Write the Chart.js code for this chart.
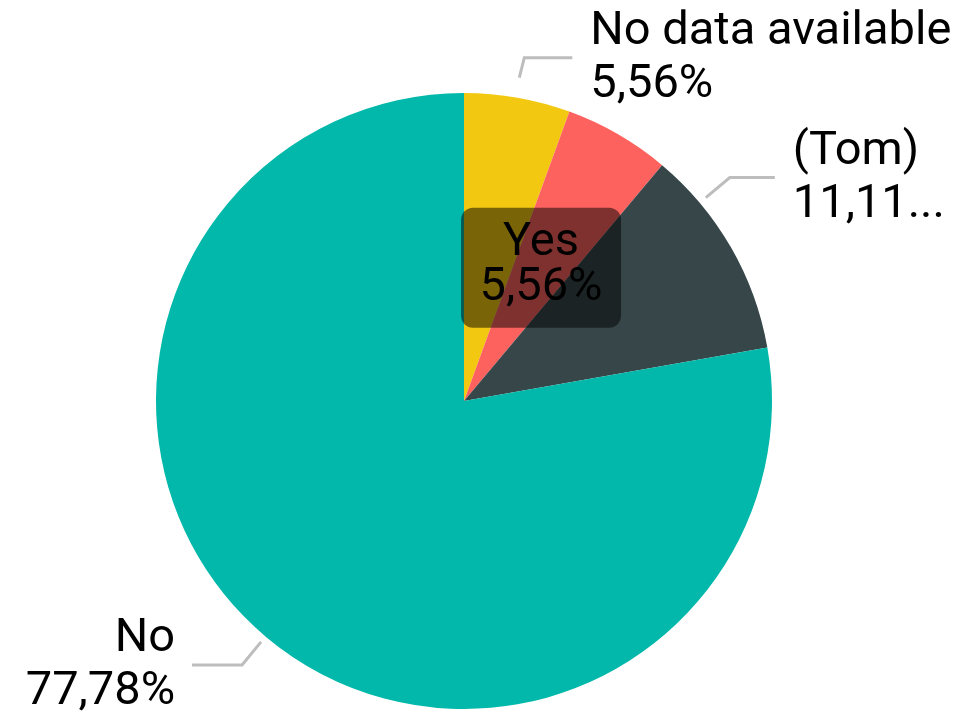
<!DOCTYPE html>
<html>
<head>
<meta charset="utf-8">
<script src="https://cdn.jsdelivr.net/npm/chart.js@4/dist/chart.umd.min.js"></script>
<style>
  html, body { margin: 0; padding: 0; background: #fff; }
  #wrap { width: 954px; height: 717px; position: relative; }
</style>
</head>
<body>
<div id="wrap"><canvas id="c" width="954" height="717"></canvas></div>
<script>
const categories = ['No data available', 'Yes', '(Tom)', 'No'];
const values = [5.56, 5.56, 11.11, 77.78];
const valueLabels = ['5,56%', '5,56%', '11,11...', '77,78%'];
const colors = ['#F2C811', '#FD625E', '#374649', '#01B8AA'];

// label styling (placement of leader lines / boxes)
const labelStyle = [
  { kind: 'outer', angleShift: -0.3, r: 20, ex: 5, ey: -20, len: 48, gap: 18, side: 'right' },
  { kind: 'inner' },
  { kind: 'outer', angleShift: -10.1, r: 8, ex: 24, ey: -20, len: 45, gap: 18, side: 'right' },
  { kind: 'outer', angleShift: 0.1, r: 7, ex: -19, ey: 23, len: 50, gap: 17, side: 'left' }
];
const FONT = '47px Roboto';
const LINE_H = 53;

const labelPlugin = {
  id: 'pbiLabels',
  afterDatasetsDraw(chart) {
    const ctx = chart.ctx;
    const meta = chart.getDatasetMeta(0);
    meta.data.forEach((arc, i) => {
      const p = arc.getProps(['x', 'y', 'startAngle', 'endAngle', 'outerRadius'], true);
      const st = labelStyle[i];
      const mid = (p.startAngle + p.endAngle) / 2;
      ctx.save();
      ctx.font = FONT;
      ctx.fillStyle = '#000';
      ctx.textBaseline = 'middle';
      if (st.kind === 'inner') {
        const cx = p.x + Math.cos(mid) * p.outerRadius * 0.5;
        const cy = p.y + Math.sin(mid) * p.outerRadius * 0.5;
        const w = 160, h = 120, rr = 12;
        ctx.fillStyle = 'rgba(0,0,0,0.5)';
        ctx.beginPath();
        ctx.roundRect(cx - w / 2, cy - h / 2, w, h, rr);
        ctx.fill();
        ctx.fillStyle = '#000';
        ctx.textAlign = 'center';
        ctx.fillText(categories[i], cx, cy - 24);
        ctx.fillText(valueLabels[i], cx, cy + 21);
      } else {
        const a = mid + st.angleShift * Math.PI / 180;
        const sx = p.x + Math.cos(a) * (p.outerRadius + st.r);
        const sy = p.y + Math.sin(a) * (p.outerRadius + st.r);
        const ex = sx + st.ex, ey = sy + st.ey;
        const hx = st.side === 'right' ? ex + st.len : ex - st.len;
        ctx.strokeStyle = '#BDBDBD';
        ctx.lineWidth = 3;
        ctx.beginPath();
        ctx.moveTo(sx, sy);
        ctx.lineTo(ex, ey);
        ctx.lineTo(hx, ey);
        ctx.stroke();
        const tx = st.side === 'right' ? hx + st.gap : hx - st.gap;
        ctx.textAlign = st.side === 'right' ? 'left' : 'right';
        ctx.fillText(categories[i], tx, ey - LINE_H / 2 + 1);
        ctx.fillText(valueLabels[i], tx, ey + LINE_H / 2 + 1);
      }
      ctx.restore();
    });
  }
};

new Chart(document.getElementById('c'), {
  type: 'pie',
  data: {
    labels: categories,
    datasets: [{
      data: values,
      backgroundColor: colors,
      borderWidth: 0
    }]
  },
  options: {
    responsive: false,
    animation: false,
    layout: { padding: { left: 156, right: 182, top: 93, bottom: 8 } },
    plugins: { legend: { display: false }, tooltip: { enabled: false } }
  },
  plugins: [labelPlugin]
});
</script>
</body>
</html>
